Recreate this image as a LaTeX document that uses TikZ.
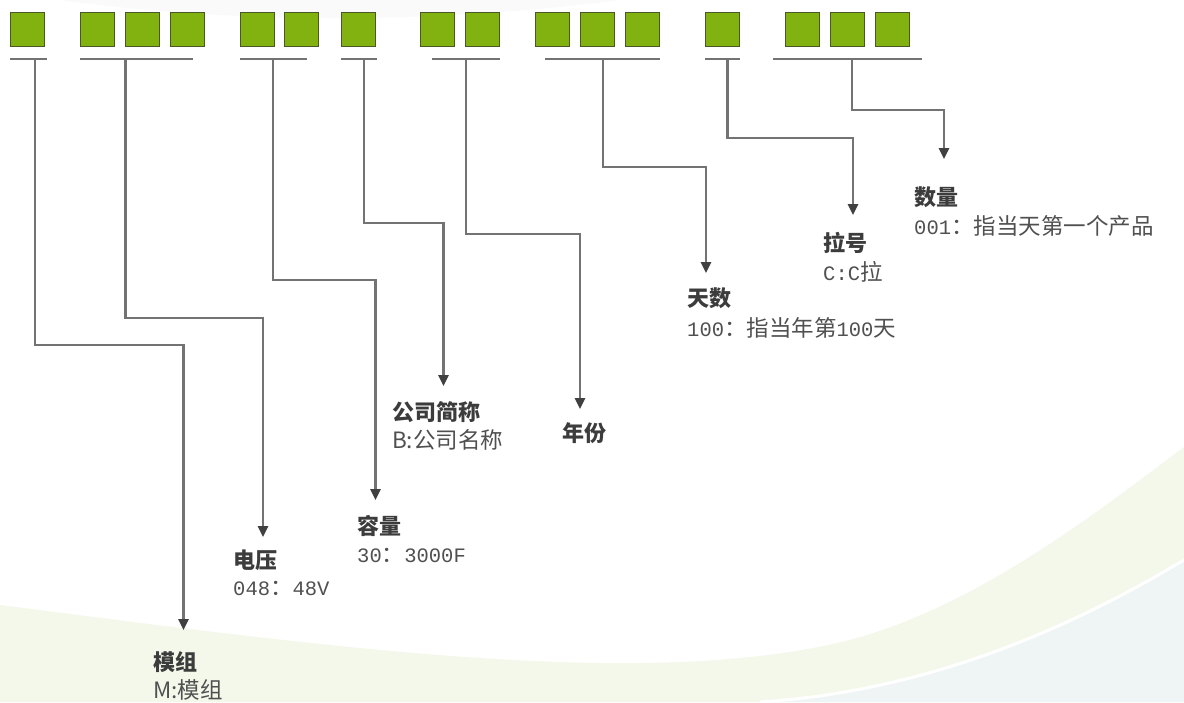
\documentclass[tikz,border=0pt]{standalone}
\usepackage{fontspec}
\newfontfamily\cjk{Noto Sans CJK SC}
\newfontfamily\monof{Liberation Mono}
\usetikzlibrary{arrows.meta}
\definecolor{boxfill}{RGB}{130,178,16}
\definecolor{boxline}{RGB}{74,88,40}
\definecolor{conncol}{RGB}{115,115,115}
\definecolor{tipcol}{RGB}{64,64,64}
\definecolor{titlecol}{RGB}{60,60,60}
\definecolor{desccol}{RGB}{80,80,80}
\definecolor{bggreen}{RGB}{243,248,234}
\definecolor{bgblue}{RGB}{239,245,245}
\newcommand\mtxt[1]{{\monof\fontsize{20.5}{26}\selectfont #1}}
\begin{document}
\begin{tikzpicture}[x=1pt,y=-1pt,
  cell/.style={draw=boxline,line width=1.5pt,fill=boxfill,minimum size=34pt,inner sep=0pt},
  uline/.style={draw=conncol,line width=2pt},
  conn/.style={draw=conncol,line width=2.5pt,line join=miter,-{Triangle[length=11pt,width=10pt,color=tipcol]}},
  title/.style={anchor=west,inner sep=0pt,text=titlecol,font=\cjk\bfseries\fontsize{22}{26}\selectfont},
  desc/.style={anchor=west,inner sep=0pt,text=desccol,font=\cjk\fontsize{22.5}{26}\selectfont}]
\useasboundingbox (0,0) rectangle (1184,702);
\fill[white] (0,0) rectangle (1184,702);
% background swooshes
\fill[black!2] (60,0) .. controls (250,26) and (450,22) .. (620,0) -- cycle;
\fill[bggreen] (0,605) .. controls (350,650) and (650,690) .. (850,640)
  .. controls (980,605) and (1100,510) .. (1184,447) -- (1184,702) -- (0,702) -- cycle;
\fill[bgblue] (760,702) .. controls (950,690) and (1100,610) .. (1184,560) -- (1184,702) -- cycle;
\draw[white,line width=3pt] (760,702) .. controls (950,690) and (1100,610) .. (1184,560);
% code boxes
\node[cell] (b1) at (27.5,29.5) {};
\node[cell] (b2) at (97.5,29.5) {};
\node[cell] (b3) at (142.5,29.5) {};
\node[cell] (b4) at (187.5,29.5) {};
\node[cell] (b5) at (257.5,29.5) {};
\node[cell] (b6) at (301.5,29.5) {};
\node[cell] (b7) at (358.5,29.5) {};
\node[cell] (b8) at (437.5,29.5) {};
\node[cell] (b9) at (482.5,29.5) {};
\node[cell] (b10) at (552.5,29.5) {};
\node[cell] (b11) at (597.5,29.5) {};
\node[cell] (b12) at (642.5,29.5) {};
\node[cell] (b13) at (722.5,29.5) {};
\node[cell] (b14) at (802.5,29.5) {};
\node[cell] (b15) at (847.5,29.5) {};
\node[cell] (b16) at (892.5,29.5) {};
% underlines
\draw[uline] (10,59) -- (47,59);
\draw[uline] (80,59) -- (193,59);
\draw[uline] (240,59) -- (307,59);
\draw[uline] (341,59) -- (377,59);
\draw[uline] (432,59) -- (500,59);
\draw[uline] (545,59) -- (660,59);
\draw[uline] (705,59) -- (740,59);
\draw[uline] (773,59) -- (922,59);
% stem starts
\coordinate (u1) at (35,59);
\coordinate (u2) at (125.5,59);
\coordinate (u3) at (273,59);
\coordinate (u4) at (364,59);
\coordinate (u5) at (466,59);
\coordinate (u6) at (603,59);
\coordinate (u7) at (727.5,59);
\coordinate (u8) at (852,59);
% corners
\coordinate (k1) at (183.5,345);
\coordinate (k2) at (263,318);
\coordinate (k3) at (375.5,280);
\coordinate (k4) at (443.5,223);
\coordinate (k5) at (580,234);
\coordinate (k6) at (706,167);
\coordinate (k7) at (853,138);
\coordinate (k8) at (944,110);
% arrow tips
\coordinate (t1) at (183.5,630);
\coordinate (t2) at (263,537);
\coordinate (t3) at (375.5,500);
\coordinate (t4) at (443.5,386);
\coordinate (t5) at (580,409);
\coordinate (t6) at (706,273);
\coordinate (t7) at (853,215);
\coordinate (t8) at (944,159);
% connectors
\draw[conn] (u1) |- (k1) -- (t1);
\draw[conn] (u2) |- (k2) -- (t2);
\draw[conn] (u3) |- (k3) -- (t3);
\draw[conn] (u4) |- (k4) -- (t4);
\draw[conn] (u5) |- (k5) -- (t5);
\draw[conn] (u6) |- (k6) -- (t6);
\draw[conn] (u7) |- (k7) -- (t7);
\draw[conn] (u8) |- (k8) -- (t8);
% labels
\node[title] (m1) at (153,662) {模组};
\node[desc] (d1) at (153,690) {M:模组};
\node[title] (m2) at (233,560) {电压};
\node[desc] (d2) at (233,588) {\mtxt{048}：\mtxt{48V}};
\node[title] (m3) at (357,526) {容量};
\node[desc] (d3) at (357,555) {\mtxt{30}：\mtxt{3000F}};
\node[title] (m4) at (392,412) {公司简称};
\node[desc] (d4) at (392,440) {B:公司名称};
\node[title] (m5) at (562,433) {年份};
\node[title] (m6) at (687,298) {天数};
\node[desc] (d6) at (687,328) {\mtxt{100}：指当年第\mtxt{100}天};
\node[title] (m7) at (823,243) {拉号};
\node[desc] (d7) at (823,272) {\mtxt{C:C}拉};
\node[title] (m8) at (914,197) {数量};
\node[desc] (d8) at (914,226) {\mtxt{001}：指当天第一个产品};
\end{tikzpicture}
\end{document}
